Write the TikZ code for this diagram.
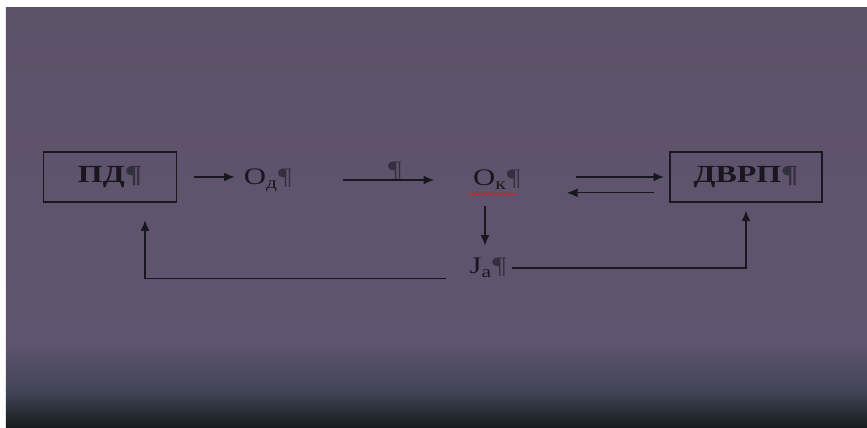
\documentclass[tikz,border=0pt]{standalone}
\usepackage{fontspec}
\setmainfont{Liberation Serif}
\usetikzlibrary{arrows.meta, positioning, calc, decorations.pathmorphing}
\definecolor{slideInk}{RGB}{24,22,30}
\definecolor{slidePil}{RGB}{50,48,62}
\definecolor{spellRed}{RGB}{200,40,40}
\definecolor{bgTop}{RGB}{92,82,104}
\definecolor{bgMid}{RGB}{102,88,118}
\definecolor{bgLow}{RGB}{96,85,112}
\definecolor{bgSlate}{RGB}{64,68,88}
\definecolor{bgDark}{RGB}{22,28,27}
\newcommand{\pil}{\textcolor{slidePil}{¶}}
\newcommand{\wide}[1]{\scalebox{1.3}[1]{#1}}

\begin{document}
\begin{tikzpicture}[
        x=0.02cm,
        y=-0.02cm,
        >=Latex,
        box/.style={rectangle, draw=slideInk, line width=0.8pt, text=slideInk,
                    font=\fontsize{14}{16}\selectfont\bfseries,
                    minimum height=1.0cm, inner sep=0pt},
        term/.style={inner sep=1pt, text=slideInk,
                     font=\fontsize{13.5}{15}\selectfont},
        arrow/.style={-{Latex[length=6pt,width=5pt]}, draw=slideInk, line width=0.7pt},
        squiggle/.style={draw=spellRed, line width=0.5pt, decorate,
                         decoration={snake, amplitude=0.7pt, segment length=2.6pt}}
    ]

    % Slide background
    \useasboundingbox (0,0) rectangle (867,428);
    \fill[white] (0,0) rectangle (867,428);
    \shade[top color=bgTop, middle color=bgMid, bottom color=bgLow] (6,8) rectangle (867,342);
    \shade[top color=bgLow, bottom color=bgSlate] (6,341.5) rectangle (867,392);
    \shade[top color=bgSlate, bottom color=bgDark] (6,391.5) rectangle (867,428);

    % Blocks and terms
    \node[box, minimum width=2.66cm] (pd)   at (110,177) {\wide{ПД\pil}};
    \node[term]                      (od)   at (268,180) {\wide{О\textsubscript{д}\pil}};
    \node[term]                      (mark) at (395,171) {\wide{\pil}};
    \node[term]                      (ok)   at (497,180) {\wide{О\textsubscript{к}\pil}};
    \node[box, minimum width=3.04cm] (dvrp) at (746,177) {\wide{ДВРП\pil}};
    \node[term]                      (ja)   at (488,268) {\wide{J\textsubscript{a}\pil}};

    % Spell-check mark under the term
    \draw[squiggle] ($(ok.base west)+(-2,8)$) -- ($(ok.base west)+(46,8)$);

    % Main chain
    \draw[arrow, shorten <=9.5pt, shorten >=4pt] (pd.east) -- (pd.east -| od.west);
    \draw[arrow, shorten <=28pt, shorten >=21pt] (od.east) -- (ok.west);
    \draw[arrow, shorten <=30pt, shorten >=3pt] (ok.east |- dvrp.east) -- (dvrp.west);
    \draw[arrow, shorten <=8.5pt, shorten >=25pt] ([yshift=-9pt]dvrp.west) -- ([yshift=-9pt]dvrp.west -| ok.east);
    \draw[arrow, shorten <=8pt, shorten >=6pt] (ok.south -| 485,0) -- (ja.north -| 485,0);

    % Feedback from J
    \draw[arrow, shorten >=10pt] ([xshift=-12pt, yshift=-6pt]ja.west) -| (pd.south -| 145,0);
    \draw[arrow, shorten >=4.5pt] ([xshift=2pt]ja.east) -| (dvrp.south);

    \end{tikzpicture}
\end{document}
